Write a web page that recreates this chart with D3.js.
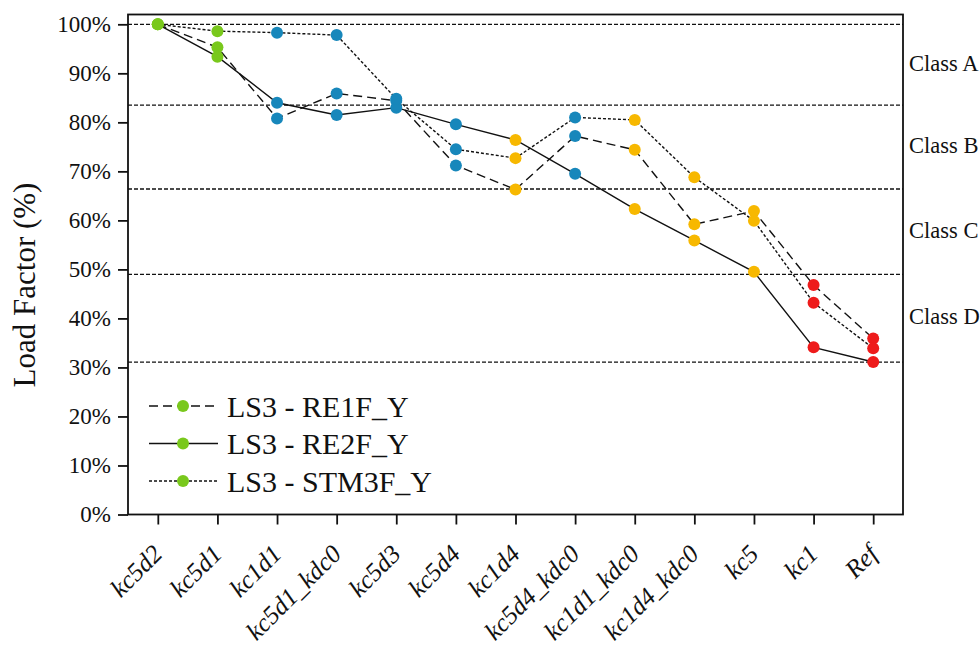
<!DOCTYPE html>
<html>
<head>
<meta charset="utf-8">
<script src="https://cdn.jsdelivr.net/npm/d3@7/dist/d3.min.js"></script>
<style>
  html, body { margin: 0; padding: 0; background: #fff; }
  svg text { font-family: "Liberation Serif", serif; }
</style>
</head>
<body>
<svg id="chart" width="980" height="649"></svg>
<script>
// Measures, ordered from highest to lowest load factor
const categories = ["kc5d2", "kc5d1", "kc1d1", "kc5d1_kdc0", "kc5d3", "kc5d4", "kc1d4",
  "kc5d4_kdc0", "kc1d1_kdc0", "kc1d4_kdc0", "kc5", "kc1", "Ref"];

// Load factor (%) per measure for each configuration
const re1fValues  = [100, 95.3, 80.8, 85.9, 84.4, 71.2, 66.3, 77.2, 74.4, 59.2, 61.9, 46.8, 35.9];
const re2fValues  = [100, 93.4, 84.0, 81.5, 83.0, 79.6, 76.4, 69.5, 62.3, 55.9, 49.5, 34.1, 31.1];
const stm3fValues = [100, 98.6, 98.3, 97.8, 84.8, 74.5, 72.7, 81.0, 80.5, 68.8, 59.9, 43.2, 33.9];

const seriesNames = ["LS3 - RE1F_Y", "LS3 - RE2F_Y", "LS3 - STM3F_Y"];

// Marker colour of each measure
const pointColors = ["#79c81c", "#79c81c", "#1787bb", "#1787bb", "#1787bb", "#1787bb", "#f7b800",
  "#1787bb", "#f7b800", "#f7b800", "#f7b800", "#ee1b1b", "#ee1b1b"];

// Class limits (%) and class names
const classLimits = [100, 83.5, 66.4, 49.0, 31.1];
const classNames = ["Class A", "Class B", "Class C", "Class D"];

const yTicks = [0, 10, 20, 30, 40, 50, 60, 70, 80, 90, 100];

const FONT = "Liberation Serif";
const svg = d3.select("#chart");
const plotLeft = 128, plotRight = 903, plotTop = 14.5, plotBottom = 514.5;

const x = d3.scalePoint().domain(categories).range([plotLeft, plotRight]).padding(0.5);
const y = d3.scaleLinear().domain([0, 102]).range([plotBottom, plotTop]);

const series = [
  { name: seriesNames[0], values: re1fValues,  dash: "9,5" },
  { name: seriesNames[1], values: re2fValues,  dash: null },
  { name: seriesNames[2], values: stm3fValues, dash: "3,2" }
];

// Class limit lines
svg.append("g").selectAll("line").data(classLimits).join("line")
  .attr("x1", plotLeft).attr("x2", plotRight)
  .attr("y1", d => y(d)).attr("y2", d => y(d))
  .attr("stroke", "#111").attr("stroke-width", 1.3).attr("stroke-dasharray", "4,2");

// Class labels, centred in each band
svg.append("g").selectAll("text").data(classNames).join("text")
  .attr("x", plotRight + 6)
  .attr("y", (d, i) => (y(classLimits[i]) + y(classLimits[i + 1])) / 2 + 6)
  .attr("font-family", FONT).attr("font-size", 22.5).attr("fill", "#111")
  .text(d => d);

// Series lines
const line = d3.line().x((d, i) => x(categories[i])).y(d => y(d));
svg.append("g").selectAll("path").data(series).join("path")
  .attr("d", d => line(d.values))
  .attr("fill", "none").attr("stroke", "#111").attr("stroke-width", 1.4)
  .attr("stroke-dasharray", d => d.dash);

// Markers
series.forEach(s => {
  svg.append("g").selectAll("circle").data(s.values).join("circle")
    .attr("cx", (d, i) => x(categories[i]))
    .attr("cy", d => y(d))
    .attr("r", 6)
    .attr("fill", (d, i) => pointColors[i]);
});

// Frame
svg.append("rect").attr("x", plotLeft).attr("y", plotTop)
  .attr("width", plotRight - plotLeft).attr("height", plotBottom - plotTop)
  .attr("fill", "none").attr("stroke", "#111").attr("stroke-width", 1.8);

// Y axis
const yAxis = svg.append("g").attr("transform", `translate(${plotLeft},0)`)
  .call(d3.axisLeft(y).tickValues(yTicks).tickSize(10).tickPadding(7).tickFormat(d => d + "%"));
yAxis.attr("font-family", FONT);
yAxis.select(".domain").remove();
yAxis.selectAll(".tick line").attr("stroke", "#111").attr("stroke-width", 1.8);
yAxis.selectAll(".tick text").attr("font-family", FONT).attr("font-size", 23).attr("fill", "#111");

// X axis
const xAxis = svg.append("g").attr("transform", `translate(0,${plotBottom})`)
  .call(d3.axisBottom(x).tickSize(10).tickFormat(""));
xAxis.select(".domain").remove();
xAxis.selectAll(".tick line").attr("stroke", "#111").attr("stroke-width", 1.8);

svg.append("g").selectAll("text").data(categories).join("text")
  .attr("transform", d => `translate(${x(d) + 6},${plotBottom + 41}) rotate(-45)`)
  .attr("text-anchor", "end")
  .attr("font-family", FONT).attr("font-size", 25.5).attr("font-style", "italic").attr("fill", "#111")
  .text(d => d);

// Y axis title
svg.append("text")
  .attr("transform", `translate(35,285) rotate(-90)`)
  .attr("text-anchor", "middle")
  .attr("font-family", FONT).attr("font-size", 31).attr("fill", "#111")
  .text("Load Factor (%)");

// Legend
const legend = svg.append("g").selectAll("g").data(series).join("g")
  .attr("transform", (d, i) => `translate(0,${406 + i * 37.5})`);
legend.append("line")
  .attr("x1", 149).attr("x2", 218).attr("y1", 0).attr("y2", 0)
  .attr("stroke", "#111").attr("stroke-width", 1.4)
  .attr("stroke-dasharray", d => d.dash);
legend.append("circle").attr("cx", 183).attr("cy", 0).attr("r", 6).attr("fill", pointColors[0]);
legend.append("text").attr("x", 227).attr("y", 10.5)
  .attr("font-family", FONT).attr("font-size", 30).attr("fill", "#111")
  .text(d => d.name);
</script>
</body>
</html>
